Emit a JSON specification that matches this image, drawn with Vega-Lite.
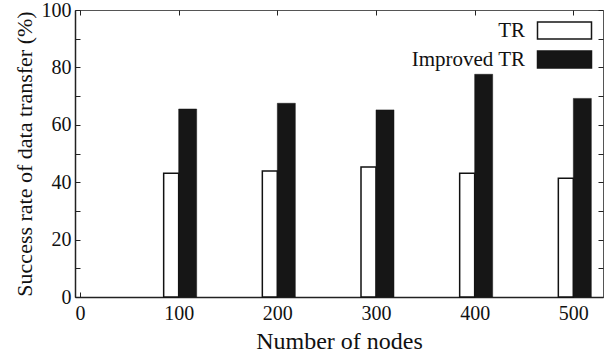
{
  "$schema": "https://vega.github.io/schema/vega-lite/v6.json",
  "width": 528,
  "height": 287,
  "autosize": {"type": "none"},
  "padding": {"left": 75, "top": 10, "right": 5, "bottom": 57},
  "background": "white",
  "config": {
    "font": "Liberation Serif",
    "view": {"stroke": "#555", "strokeWidth": 1},
    "axis": {
      "grid": false,
      "domainColor": "#222",
      "domainWidth": 1.5,
      "tickColor": "#222",
      "tickWidth": 1,
      "labelFont": "Liberation Serif",
      "labelFontSize": 20,
      "labelColor": "#111",
      "titleFont": "Liberation Serif",
      "titleFontWeight": "normal",
      "titleColor": "#111"
    }
  },
  "data": {
    "values": [
      {"nodes": 100, "series": "TR", "rate": 43.1},
      {"nodes": 200, "series": "TR", "rate": 43.9},
      {"nodes": 300, "series": "TR", "rate": 45.3},
      {"nodes": 400, "series": "TR", "rate": 43.1},
      {"nodes": 500, "series": "TR", "rate": 41.4},
      {"nodes": 100, "series": "Improved TR", "rate": 65.5},
      {"nodes": 200, "series": "Improved TR", "rate": 67.5},
      {"nodes": 300, "series": "Improved TR", "rate": 65.2},
      {"nodes": 400, "series": "Improved TR", "rate": 77.6},
      {"nodes": 500, "series": "Improved TR", "rate": 69.2}
    ]
  },
  "layer": [
    {
      "transform": [{"filter": "datum.series == 'TR'"}],
      "mark": {"type": "bar", "width": 15, "xOffset": -7.5, "stroke": "#111", "strokeWidth": 1.5},
      "encoding": {
        "x": {
          "field": "nodes", "type": "quantitative",
          "scale": {"domain": [0, 525], "nice": false, "zero": true},
          "axis": {"orient": "bottom", "values": [0, 100, 200, 300, 400, 500], "title": "Number of nodes", "titleFontSize": 24, "tickSize": -5, "labelPadding": 11, "titlePadding": 6}
        },
        "y": {
          "field": "rate", "type": "quantitative",
          "scale": {"domain": [0, 100], "nice": false},
          "axis": {"orient": "left", "values": [0, 10, 20, 30, 40, 50, 60, 70, 80, 90, 100], "labelExpr": "datum.value % 20 == 0 ? datum.label : ''", "title": "Success rate of data transfer (%)", "titleFontSize": 22, "tickSize": -5, "labelPadding": 9, "titlePadding": 5}
        },
        "fill": {
          "field": "series", "type": "nominal",
          "scale": {"domain": ["TR", "Improved TR"], "range": ["white", "#161616"]},
          "legend": {
            "title": null, "orient": "none", "legendX": 479, "legendY": 10,
            "symbolType": "M-3,-0.95H3V0.95H-3Z", "symbolSize": 324,
            "symbolStrokeColor": "#111", "symbolStrokeWidth": 1.5, "symbolOpacity": 1,
            "labelFont": "Liberation Serif", "labelFontSize": 21, "labelColor": "#111",
            "labelAlign": "right", "labelOffset": -50, "rowPadding": 4
          }
        }
      }
    },
    {
      "transform": [{"filter": "datum.series == 'Improved TR'"}],
      "mark": {"type": "bar", "width": 18, "xOffset": 9, "stroke": "#161616", "strokeWidth": 0.5},
      "encoding": {
        "x": {
          "field": "nodes", "type": "quantitative",
          "axis": {"orient": "top", "values": [0, 100, 200, 300, 400, 500], "labels": false, "title": null, "domain": false, "tickSize": -5}
        },
        "y": {
          "field": "rate", "type": "quantitative",
          "axis": {"orient": "right", "values": [0, 10, 20, 30, 40, 50, 60, 70, 80, 90, 100], "labels": false, "title": null, "domain": false, "tickSize": -5}
        },
        "fill": {"field": "series", "type": "nominal"}
      }
    }
  ]
}
